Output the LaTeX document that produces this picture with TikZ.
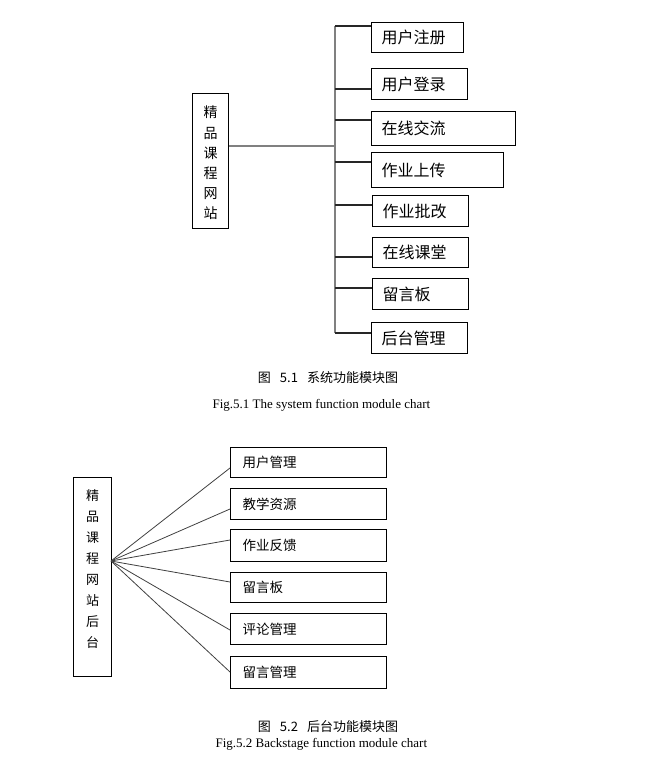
\documentclass[tikz,border=0pt]{standalone}
\usepackage{fontspec}
\setmainfont{Liberation Serif}
\newfontfamily\cjk{Noto Sans CJK SC}
\usetikzlibrary{positioning}

\begin{document}
\begin{tikzpicture}[x=1pt, y=-1pt,
		modbox/.style={draw, line width=1.2pt, anchor=north west, align=left,
			inner xsep=10pt, inner ysep=0pt, font=\cjk\fontsize{16}{16}\selectfont},
		rootbox/.style={draw, line width=1.2pt, anchor=north west, inner sep=0pt},
		vtext/.style={align=center, font=\cjk\fontsize{14}{20.2}\selectfont},
		trunk/.style={line width=1.8pt, gray},
		branch/.style={line width=1.1pt, black!85},
		fanline/.style={line width=0.8pt, black!75},
		cncap/.style={font=\cjk\fontsize{13}{13}\selectfont},
		encap/.style={font=\fontsize{13}{13}\selectfont}]
			\useasboundingbox (0,0) rectangle (667,769);
			% system function modules
			\node[rootbox, minimum width=36pt, minimum height=135pt] (site) at (192,93) {};
			\node[vtext] at ([yshift=-2pt]site.center) {精\\品\\课\\程\\网\\站};
			\coordinate (jtop) at (335,26);
			\coordinate (jmid) at (335,146);
			\coordinate (jbot) at (335,333);
			\draw[trunk] (site.east |- jmid) -- (jmid);
			\draw[trunk] (jtop) -- (jbot);
			\foreach \x/\y/\w/\h/\yb/\t [count=\i] in
				{371/22/72/30/26/用户注册, 371/68/76/31/89/用户登录,
				 371/111/124/34/120/在线交流, 371/152/112/35/162/作业上传,
				 372/195/76/31/205/作业批改, 372/237/76/30/257/在线课堂,
				 372/278/76/31/288/留言板, 371/322/76/31/333/后台管理}
			{
				\node[modbox, text width=\w pt, minimum height=\h pt] (m\i) at (\x,\y) {\t};
				\draw[branch] (jtop |- 0,\yb) -- (m\i.west |- 0,\yb);
			}
			\node[cncap] (cap1) at (328,378) {图\hspace{0.7em}5.1\hspace{0.7em}系统功能模块图};
			\node[encap, anchor=west] (fig1) at (209,405) {Fig.5.1 The system function module chart};
			% backstage modules
			\node[rootbox, minimum width=38pt, minimum height=199pt] (back) at (73,477) {};
			\node[vtext, font=\cjk\fontsize{13}{20.9}\selectfont] at ([yshift=8pt]back.center)
				{精\\品\\课\\程\\网\\站\\后\\台};
			\coordinate (fan) at (111,561);
			\foreach \y/\h/\yb/\t [count=\i] in
				{447/30/468/用户管理, 488/31/509/教学资源, 529/32/540/作业反馈,
				 572/30/582/留言板, 613/31/630/评论管理, 656/32/672/留言管理}
			{
				\node[modbox, inner xsep=12pt, text width=132pt, minimum height=\h pt,
					font=\cjk\fontsize{13.5}{13.5}\selectfont] (b\i) at (230,\y) {\t};
				\draw[fanline] (fan) -- (b\i.west |- 0,\yb);
			}
			\node[cncap] (cap2) at (328,727) {图\hspace{0.7em}5.2\hspace{0.7em}后台功能模块图};
			\node[encap, anchor=west] (fig2) at (212,744) {Fig.5.2 Backstage function module chart};
		\end{tikzpicture}
\end{document}
